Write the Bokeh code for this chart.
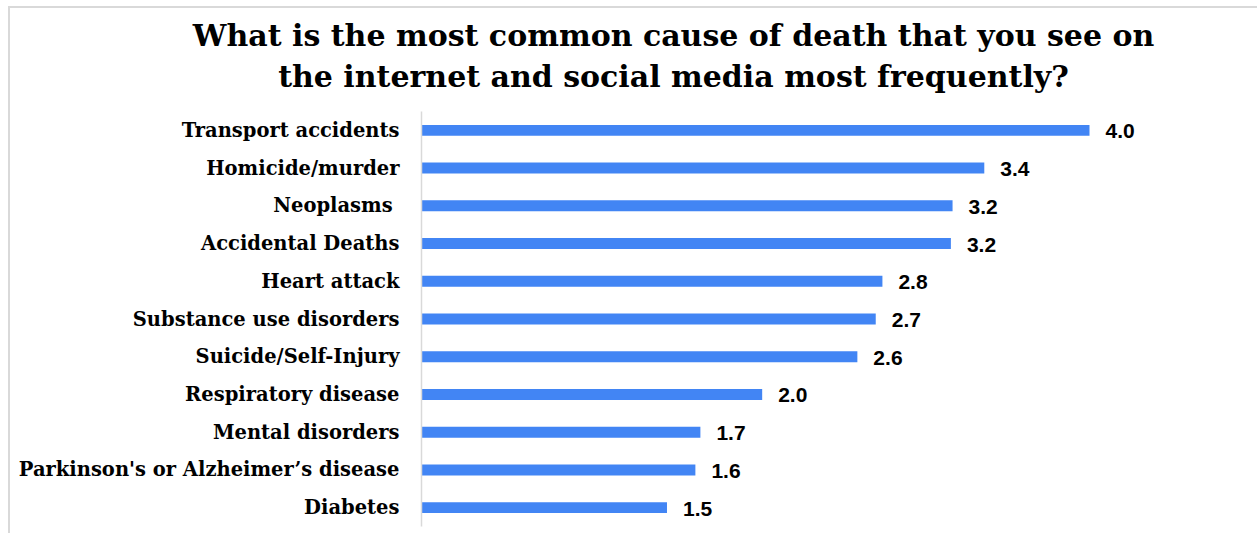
from bokeh.plotting import figure
from bokeh.models import ColumnDataSource, Range1d, FactorRange, Div
from bokeh.layouts import column
from bokeh.core.properties import value
from bokeh.embed import file_html
from bokeh.resources import INLINE

# ---- data ----
categories = [
    "Transport accidents",
    "Homicide/murder",
    "Neoplasms ",
    "Accidental Deaths",
    "Heart attack",
    "Substance use disorders",
    "Suicide/Self-Injury",
    "Respiratory disease",
    "Mental disorders",
    "Parkinson's or Alzheimer\u2019s disease",
    "Diabetes",
]
values = [4.0, 3.37, 3.18, 3.17, 2.76, 2.72, 2.61, 2.04, 1.67, 1.64, 1.47]
value_labels = ["4.0", "3.4", "3.2", "3.2", "2.8", "2.7", "2.6", "2.0", "1.7", "1.6", "1.5"]
title_lines = [
    "What is the most common cause of death that you see on",
    "the internet and social media most frequently?",
]

# ---- layout constants (page px) ----
OFF_X, OFF_Y = 8, 6
BORDER = 2
W = 1257 - OFF_X - BORDER
TITLE_H = 90
FIG_TOP = OFF_Y + BORDER + TITLE_H           # page y where figure starts
FIG_H = 533 - FIG_TOP
FIG_LEFT = OFF_X + BORDER
FRAME_L = 421 - FIG_LEFT
FRAME_T = 111 - FIG_TOP
FRAME_B = 526 - FIG_TOP
PX_PER_UNIT = 167.0
frame_w = W - FRAME_L - 1
x_max = frame_w / PX_PER_UNIT

rev = list(reversed(categories))
src = ColumnDataSource(dict(cat=categories, val=values, lab=value_labels))

p = figure(
    width=W, height=FIG_H,
    y_range=FactorRange(factors=rev, range_padding=0),
    x_range=Range1d(0, x_max),
    output_backend="svg", toolbar_location=None,
    min_border_left=FRAME_L, min_border_top=FRAME_T,
    min_border_bottom=FIG_H - FRAME_B, min_border_right=1,
)
p.margin = (0, 0, 0, 0)

p.hbar(y="cat", right="val", left=0, height=0.29, source=src,
       fill_color="#4285f4", line_color=None)

p.text(x="val", y="cat", text="lab", source=src, x_offset=16, y_offset=1,
       text_font=value("Liberation Sans"), text_font_style="bold",
       text_font_size="21px", text_color="#000000",
       text_baseline="middle", text_align="left")

p.xaxis.visible = False
ya = p.yaxis[0]
ya.axis_line_color = "#d9d9d9"
ya.axis_line_width = 1.5
ya.major_tick_line_color = None
ya.minor_tick_line_color = None
ya.major_tick_out = 0
ya.major_tick_in = 0
ya.minor_tick_out = 0
ya.minor_tick_in = 0
ya.major_label_standoff = 22
ya.major_label_text_font = "DejaVu Serif"
ya.major_label_text_font_style = "bold"
ya.major_label_text_font_size = "19.5px"
ya.major_label_text_color = "#000000"

p.xgrid.visible = False
p.ygrid.visible = False
p.outline_line_color = None

title = Div(
    text="<br>".join(title_lines),
    width=W, height=TITLE_H,
    margin=(0, 0, 0, 0),
    styles={
        "font-family": "'DejaVu Serif'",
        "font-weight": "bold",
        "font-size": "30px",
        "line-height": "41px",
        "text-align": "center",
        "color": "#000000",
        "padding-top": "7px",
        "padding-left": "80px",
        "box-sizing": "border-box",
        "width": f"{W}px",
    },
)

layout = column(title, p, spacing=0)
layout.margin = (OFF_Y, 0, 0, OFF_X)
layout.styles = {"border-top": f"{BORDER}px solid #d9d9d9",
                 "border-left": f"{BORDER}px solid #d9d9d9"}

open("out.html", "w").write(file_html(layout, INLINE))
